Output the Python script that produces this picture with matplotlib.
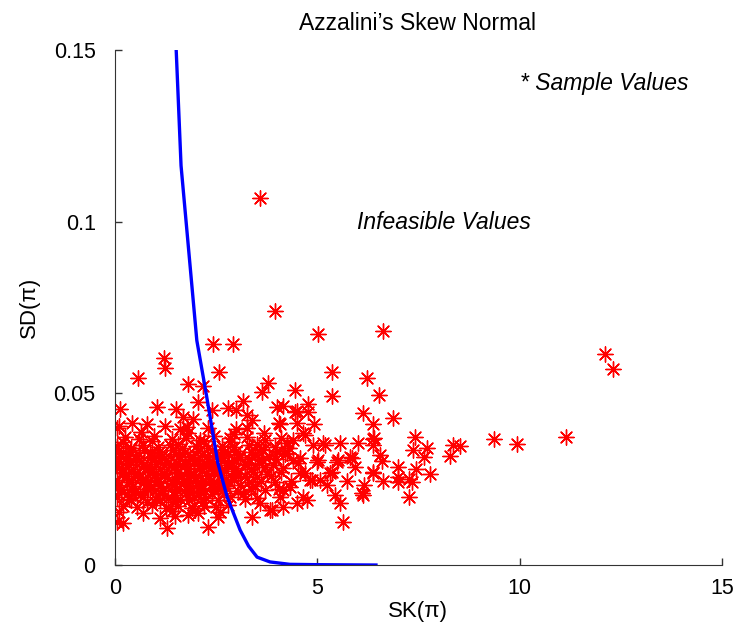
import matplotlib
matplotlib.use("Agg")
import matplotlib.pyplot as plt

# boundary curve (feasibility limit)
curve_sk = [1.51, 1.63, 2.02, 2.25, 2.54, 2.77, 3.09, 3.30, 3.51, 3.83, 4.32, 5.00, 6.45]
curve_sd = [0.150, 0.1163, 0.0654, 0.050, 0.0297, 0.0198, 0.0102, 0.0055, 0.0023, 0.0009, 0.0002, 0.0001, 0.0]

# sparse sample values (outside the dense core)
sk_outer = [3.58, 3.95, 5.01, 6.62, 12.12, 12.32, 2.42, 2.91, 1.21, 1.23,
            0.57, 2.57, 1.80, 2.17, 0.12, 1.04, 1.51, 2.05, 2.40, 2.79,
            2.99, 3.16, 3.63, 3.78, 4.44, 4.00, 4.15, 4.49, 4.77, 4.77,
            0.05, 0.42, 1.23, 1.78, 1.93, 1.68, 3.26, 3.38, 4.07, 4.44,
            5.36, 6.22, 5.36, 6.52, 6.12, 6.37, 6.86, 7.41, 8.35, 8.27,
            7.70, 7.36, 7.63, 6.40, 6.54, 6.59, 6.99, 7.43, 7.78, 6.37,
            6.62, 7.26, 6.99, 6.15, 6.10, 7.26, 5.73, 5.23, 5.43, 5.56,
            5.63, 6.00, 5.85, 5.51, 5.36, 4.99, 5.14, 4.89, 5.56, 4.64,
            4.40, 4.57, 4.25, 4.57, 4.86, 5.06, 4.64, 4.49, 4.74, 4.15,
            4.32, 9.38, 9.93, 11.16, 8.52, 6.99, 7.33, 5.01, 5.48, 5.80,
            5.93, 5.31, 6.37, 6.12, 4.81, 4.52, 4.69, 4.07, 3.58, 3.88,
            4.15, 3.38, 3.83, 0.05, 0.20, 1.11, 1.28, 1.48, 1.80, 2.30,
            2.54, 1.98, 5.19, 6.37, 3.68, 4.69, 6.37, 3.26, 4.49, 4.91,
            4.05]
sd_outer = [0.1070, 0.0741, 0.0674, 0.0683, 0.0616, 0.0570, 0.0645, 0.0645, 0.0602, 0.0573,
            0.0544, 0.0561, 0.0526, 0.0520, 0.0453, 0.0459, 0.0453, 0.0474, 0.0451, 0.0456,
            0.0451, 0.0477, 0.0503, 0.0529, 0.0509, 0.0459, 0.0462, 0.0448, 0.0468, 0.0445,
            0.0398, 0.0413, 0.0404, 0.0401, 0.0424, 0.0430, 0.0436, 0.0422, 0.0410, 0.0445,
            0.0561, 0.0544, 0.0491, 0.0494, 0.0442, 0.0410, 0.0427, 0.0372, 0.0349, 0.0317,
            0.0340, 0.0334, 0.0314, 0.0369, 0.0320, 0.0302, 0.0285, 0.0279, 0.0265, 0.0267,
            0.0244, 0.0250, 0.0256, 0.0233, 0.0209, 0.0198, 0.0244, 0.0233, 0.0203, 0.0180,
            0.0125, 0.0355, 0.0311, 0.0305, 0.0270, 0.0299, 0.0355, 0.0349, 0.0355, 0.0384,
            0.0363, 0.0311, 0.0326, 0.0267, 0.0247, 0.0247, 0.0198, 0.0180, 0.0189, 0.0218,
            0.0227, 0.0366, 0.0352, 0.0372, 0.0346, 0.0241, 0.0241, 0.0305, 0.0299, 0.0314,
            0.0285, 0.0267, 0.0270, 0.0203, 0.0247, 0.0297, 0.0267, 0.0198, 0.0180, 0.0160,
            0.0169, 0.0140, 0.0160, 0.0125, 0.0122, 0.0137, 0.0108, 0.0142, 0.0145, 0.0110,
            0.0140, 0.0160, 0.0349, 0.0349, 0.0384, 0.0378, 0.0366, 0.0398, 0.0413, 0.0410,
            0.0413]

# dense core of sample values
sk_core = [0.10, 0.80, 1.60, 2.30, 3.00,
           0.25, 0.60, 0.95, 1.40, 1.75, 2.10, 2.45, 2.85, 3.25, 3.70, 4.10,
           0.05, 0.40, 0.70, 1.05, 1.35, 1.65, 2.00, 2.30, 2.65, 2.95, 3.30, 3.60, 3.95, 4.30,
           0.15, 0.50, 0.85, 1.15, 1.50, 1.85, 2.15, 2.50, 2.80, 3.10, 3.45, 3.80, 4.20,
           0.02, 0.35, 0.65, 1.00, 1.30, 1.60, 1.95, 2.25, 2.55, 2.90, 3.20, 3.55, 3.90,
           0.20, 0.55, 0.90, 1.20, 1.55, 1.85, 2.15, 2.45, 2.75, 3.05, 3.40, 3.75, 4.10,
           0.05, 0.40, 0.75, 1.05, 1.40, 1.70, 2.00, 2.35, 2.65, 2.95, 3.30, 3.60, 3.95, 4.35,
           0.15, 0.50, 0.85, 1.15, 1.50, 1.80, 2.10, 2.45, 2.75, 3.05, 3.35, 3.70, 4.05,
           0.05, 0.35, 0.70, 1.00, 1.30, 1.60, 1.95, 2.25, 2.55, 2.85, 3.20, 3.50,
           0.20, 0.55, 0.90, 1.25, 1.55, 1.90, 2.20, 2.50, 2.80,
           0.10, 0.70, 1.40, 2.05, 2.60]
sd_core = [0.0405, 0.0411, 0.0395, 0.0399, 0.0396,
           0.0372, 0.0366, 0.0375, 0.0368, 0.0371, 0.0364, 0.0376, 0.0369, 0.0373, 0.0365, 0.0370,
           0.0347, 0.0341, 0.0349, 0.0343, 0.0350, 0.0342, 0.0346, 0.0340, 0.0348, 0.0344, 0.0351, 0.0339, 0.0345, 0.0342,
           0.0322, 0.0317, 0.0325, 0.0319, 0.0323, 0.0316, 0.0321, 0.0318, 0.0324, 0.0315, 0.0320, 0.0317, 0.0322,
           0.0297, 0.0292, 0.0299, 0.0293, 0.0296, 0.0291, 0.0298, 0.0294, 0.0290, 0.0297, 0.0293, 0.0296, 0.0291,
           0.0272, 0.0267, 0.0274, 0.0268, 0.0271, 0.0266, 0.0273, 0.0269, 0.0275, 0.0267, 0.0270, 0.0265, 0.0272,
           0.0247, 0.0242, 0.0249, 0.0243, 0.0246, 0.0241, 0.0248, 0.0244, 0.0240, 0.0247, 0.0243, 0.0246, 0.0241, 0.0245,
           0.0222, 0.0217, 0.0224, 0.0218, 0.0221, 0.0216, 0.0223, 0.0219, 0.0225, 0.0217, 0.0220, 0.0218, 0.0222,
           0.0197, 0.0192, 0.0199, 0.0193, 0.0196, 0.0191, 0.0198, 0.0194, 0.0190, 0.0197, 0.0193, 0.0196,
           0.0172, 0.0168, 0.0174, 0.0167, 0.0171, 0.0166, 0.0173, 0.0169, 0.0175,
           0.0155, 0.0152, 0.0157, 0.0151, 0.0154]

# second, interleaved layer of the core (fills the saturated band)
sk_core2 = [0.65, 1.80, 2.95,
            0.20, 0.90, 1.55, 2.20, 2.85, 3.50, 4.25,
            0.08, 0.38, 0.72, 1.08, 1.42, 1.72, 2.05, 2.40, 2.70, 3.00, 3.35, 3.65, 4.00,
            0.25, 0.60, 0.95, 1.25, 1.60, 1.95, 2.30, 2.60, 2.95, 3.30, 3.62, 3.98, 4.40,
            0.10, 0.45, 0.80, 1.10, 1.45, 1.78, 2.10, 2.40, 2.70, 3.00, 3.35, 3.70, 4.15,
            0.28, 0.62, 0.95, 1.28, 1.62, 1.98, 2.30, 2.62, 2.90, 3.20, 3.50, 3.85,
            0.10, 0.45, 0.80, 1.12, 1.45, 1.78, 2.12, 2.42, 2.72, 3.10, 3.45,
            0.30, 0.62, 1.10, 1.45, 1.75, 2.05, 2.40, 2.70, 3.15]
sd_core2 = [0.0388, 0.0384, 0.0382,
            0.0358, 0.0360, 0.0353, 0.0361, 0.0358, 0.0352, 0.0355,
            0.0333, 0.0329, 0.0335, 0.0330, 0.0334, 0.0328, 0.0332, 0.0336, 0.0330, 0.0333, 0.0329, 0.0334, 0.0331,
            0.0309, 0.0305, 0.0311, 0.0306, 0.0310, 0.0304, 0.0308, 0.0312, 0.0305, 0.0309, 0.0306, 0.0310, 0.0307,
            0.0284, 0.0280, 0.0286, 0.0281, 0.0285, 0.0279, 0.0283, 0.0287, 0.0280, 0.0284, 0.0281, 0.0285, 0.0282,
            0.0259, 0.0255, 0.0261, 0.0256, 0.0260, 0.0254, 0.0258, 0.0262, 0.0255, 0.0259, 0.0256, 0.0260,
            0.0234, 0.0230, 0.0236, 0.0231, 0.0235, 0.0229, 0.0233, 0.0237, 0.0230, 0.0234, 0.0231,
            0.0208, 0.0204, 0.0210, 0.0205, 0.0209, 0.0203, 0.0207, 0.0211, 0.0206]

# third layer, lower-left saturated block
sk_core3 = [0.12, 0.52, 0.88, 1.22, 1.58, 1.92, 2.28, 2.62, 3.05,
            0.32, 0.68, 1.02, 1.38, 1.72, 2.08, 2.42, 2.78, 3.25,
            0.18, 0.50, 0.85, 1.20, 1.52, 1.88, 2.25, 2.58, 2.98,
            0.35, 0.70, 1.05, 1.40, 1.75, 2.10, 2.45, 2.80,
            0.15, 0.48, 0.82, 1.18, 1.52, 1.85, 2.22, 2.55,
            0.40, 0.78, 1.12, 1.48, 1.82, 2.18]
sd_core3 = [0.0318, 0.0313, 0.0316, 0.0312, 0.0319, 0.0314, 0.0317, 0.0311, 0.0315,
            0.0293, 0.0289, 0.0295, 0.0290, 0.0294, 0.0288, 0.0292, 0.0296, 0.0290,
            0.0268, 0.0264, 0.0270, 0.0265, 0.0269, 0.0263, 0.0267, 0.0271, 0.0264,
            0.0243, 0.0239, 0.0245, 0.0240, 0.0244, 0.0238, 0.0242, 0.0246,
            0.0218, 0.0214, 0.0220, 0.0215, 0.0219, 0.0213, 0.0217, 0.0221,
            0.0188, 0.0184, 0.0190, 0.0185, 0.0189, 0.0183]

plt.rcParams["font.family"] = ["Liberation Sans", "DejaVu Sans"]

fig = plt.figure(figsize=(7.38, 6.29), dpi=100)
ax = fig.add_axes([0.156, 0.1017, 0.822, 0.8188])

mk = dict(marker=(8, 2, 0), s=120, color="#ff0000", linewidths=1.0)
ax.scatter(sk_core, sd_core, **mk)
ax.scatter(sk_core2, sd_core2, **mk)
ax.scatter(sk_core3, sd_core3, **mk)
ax.scatter(sk_outer, sd_outer, **mk)
ax.plot(curve_sk, curve_sd, color="#0000ff", lw=2.4)

ax.set_xlim(0, 15)
ax.set_ylim(0, 0.15)
ax.set_xticks([0, 5, 10, 15])
ax.set_yticks([0, 0.05, 0.1, 0.15])
ax.set_yticklabels(["0", "0.05", "0.1", "0.15"])
ax.tick_params(direction="in", length=5, width=1, labelsize=15.5, color="#333333")
ax.tick_params(axis="y", pad=14)
ax.tick_params(axis="x", pad=9)
for side in ["top", "right"]:
    ax.spines[side].set_visible(False)
for side in ["left", "bottom"]:
    ax.spines[side].set_color("#333333")

ax.set_xlabel("SK(π)", fontsize=16, labelpad=2)
ax.set_ylabel("SD(π)", fontsize=16, labelpad=10)
fig.text(0.566, 0.963, "Azzalini’s Skew Normal", fontsize=16.5, ha="center", va="center")

ax.text(10.0, 0.1401, "* Sample Values", fontsize=16.5, style="italic", va="center")
ax.text(5.98, 0.0997, "Infeasible Values", fontsize=16.5, style="italic", va="center")

fig.savefig("out.png", dpi=100)
